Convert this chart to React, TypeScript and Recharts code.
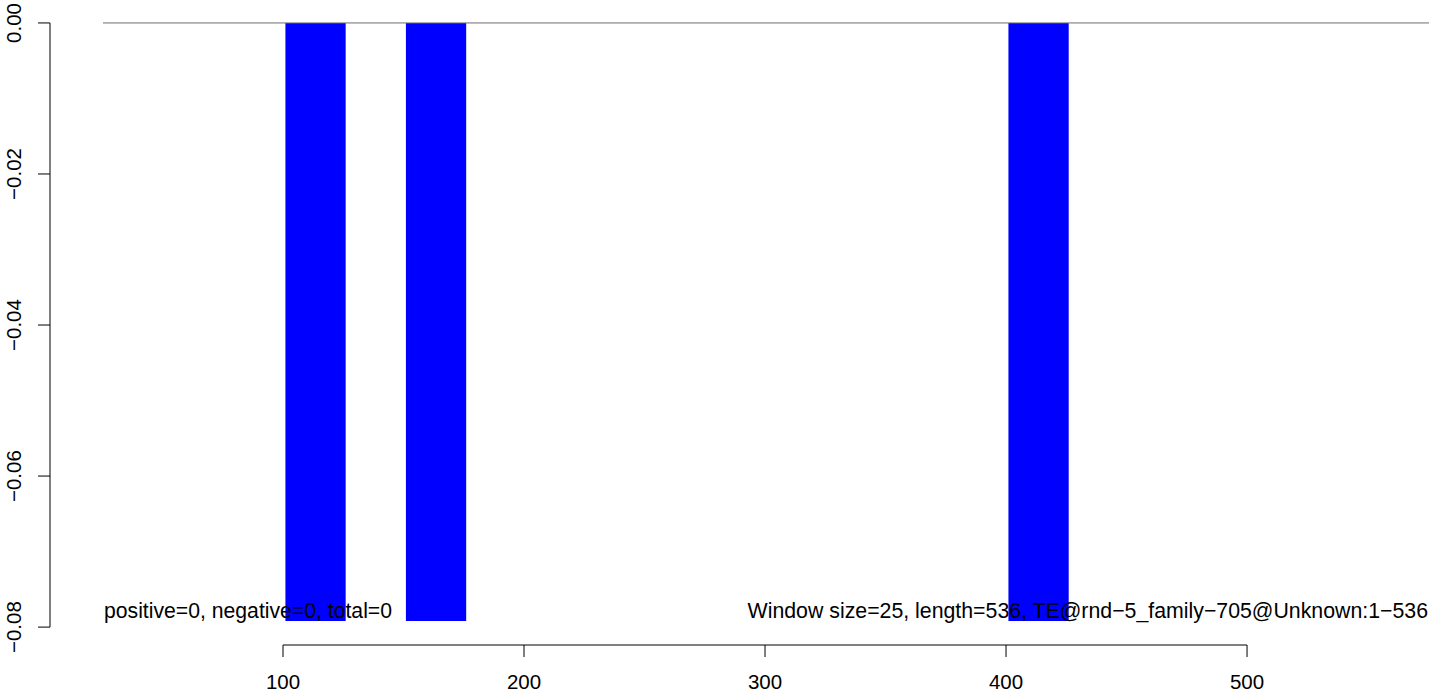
import React from 'react';
import { ComposedChart, Area, XAxis, YAxis, ReferenceLine } from 'recharts';

const windowStarts = [101, 151, 401];
const windowSize = 25;
const windowValues = [-0.0792, -0.0792, -0.0792];
const xTicks = [100, 200, 300, 400, 500];
const yTicks = [0, -0.02, -0.04, -0.06, -0.08];
const yTickLabels = ['0.00', '\u22120.02', '\u22120.04', '\u22120.06', '\u22120.08'];
const leftNote = 'positive=0, negative=0, total=0';
const rightNote = 'Window size=25, length=536, TE@rnd\u22125_family\u2212705@Unknown:1\u2212536';

const xDomain: [number, number] = [3.32, 575.5];
const yDomain: [number, number] = [-0.08237, 0.00317];
const plotXStart = 25.3;

const areaData = windowStarts.flatMap((s, i) => [
  { x: s, v: windowValues[i] },
  { x: s + windowSize, v: 0 },
]);

const FONT = '"Liberation Sans", Arial, Helvetica, sans-serif';

const XTick = (props: any) => {
  const { x, y, payload } = props;
  return (
    <text x={x} y={y} dy={29.5} textAnchor="middle" fontFamily={FONT} fontSize={20.5} fill="#000">
      {String(payload.value)}
    </text>
  );
};

const YTick = (props: any) => {
  const { x, y, payload } = props;
  const idx = yTicks.findIndex((t) => Math.abs(t - payload.value) < 1e-9);
  const label = idx >= 0 ? yTickLabels[idx] : String(payload.value);
  const bx = x - 14.5;
  return (
    <text
      x={bx}
      y={y}
      transform={`rotate(-90, ${bx}, ${y})`}
      textAnchor="middle"
      fontFamily={FONT}
      fontSize={20.5}
      fill="#000"
    >
      {label}
    </text>
  );
};

export default function App() {
  return (
    <div style={{ position: 'absolute', left: 0, top: 0, width: 1429, height: 692, overflow: 'hidden', background: '#fff' }}>
      <div style={{ position: 'absolute', left: 0, top: -1 }}>
        <ComposedChart
          width={1429}
          height={693}
          data={areaData}
          margin={{ top: 0, right: 0, bottom: 0, left: 0 }}
        >
          <XAxis
            type="number"
            dataKey="x"
            domain={xDomain}
            ticks={xTicks}
            allowDataOverflow
            axisLine={false}
            tickLine={{ stroke: '#000', strokeWidth: 1 }}
            tickSize={12}
            tickMargin={2}
            height={47}
            tick={<XTick />}
            interval={0}
          />
          <YAxis
            type="number"
            domain={yDomain}
            ticks={yTicks}
            allowDataOverflow
            axisLine={false}
            tickLine={{ stroke: '#000', strokeWidth: 1 }}
            tickSize={12}
            tickMargin={2}
            width={50}
            tick={<YTick />}
            interval={0}
          />
          <ReferenceLine
            segment={[{ x: plotXStart, y: 0 }, { x: xDomain[1], y: 0 }]}
            stroke="#6e6e6e"
            strokeWidth={1}
            ifOverflow="visible"
          />
          <Area
            type="stepAfter"
            dataKey="v"
            baseValue={0}
            stroke="none"
            fill="#0000ff"
            fillOpacity={1}
            isAnimationActive={false}
            dot={false}
            activeDot={false}
          />
          <ReferenceLine
            segment={[{ x: xDomain[0], y: yTicks[0] }, { x: xDomain[0], y: yTicks[yTicks.length - 1] }]}
            stroke="#000"
            strokeWidth={1}
            ifOverflow="visible"
          />
          <ReferenceLine
            segment={[{ x: xTicks[0], y: yDomain[0] }, { x: xTicks[xTicks.length - 1], y: yDomain[0] }]}
            stroke="#000"
            strokeWidth={1}
            ifOverflow="visible"
          />
        </ComposedChart>
      </div>
      <svg
        width={1429}
        height={692}
        style={{ position: 'absolute', left: 0, top: 0, pointerEvents: 'none' }}
      >
        <text x={104} y={618} fontFamily={FONT} fontSize={21.2} fill="#000">
          {leftNote}
        </text>
        <text x={1428} y={618} textAnchor="end" fontFamily={FONT} fontSize={21.3} fill="#000">
          {rightNote}
        </text>
      </svg>
    </div>
  );
}
